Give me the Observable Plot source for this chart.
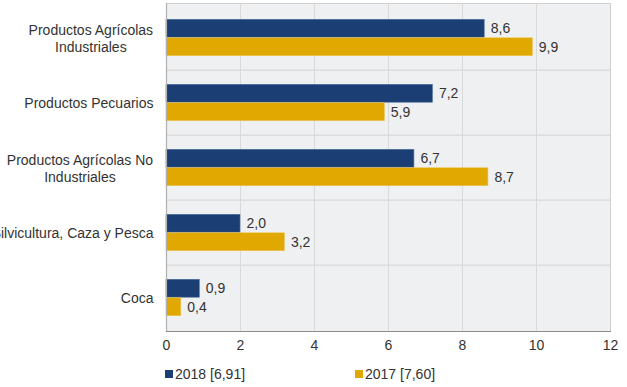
<!DOCTYPE html>
<html>
<head>
<meta charset="utf-8">
<script src="https://cdn.jsdelivr.net/npm/d3@7"></script>
<script src="https://cdn.jsdelivr.net/npm/@observablehq/plot@0.6"></script>
<style>
  body { margin: 0; background: #fff; font-family: "Liberation Sans", Arial, sans-serif; }
  #wrap { position: relative; width: 627px; height: 387px; }
  .leg { position: absolute; font-size: 14px; color: #333; display: flex; align-items: center; }
  .sw { width: 8px; height: 8px; margin-right: 2px; display: inline-block; }
</style>
</head>
<body>
<div id="wrap"></div>
<script>
const categories = [
  "Productos Agrícolas\nIndustriales",
  "Productos Pecuarios",
  "Productos Agrícolas No\nIndustriales",
  "Silvicultura, Caza y Pesca",
  "Coca"
];
const values2018 = [8.6, 7.2, 6.7, 2.0, 0.9];
const values2017 = [9.9, 5.9, 8.7, 3.2, 0.4];
const seriesNames = ["2018 [6,91]", "2017 [7,60]"];
const seriesColors = ["#1b3f74", "#e0a800"];
const xTicks = [0, 2, 4, 6, 8, 10, 12];

const data2018 = categories.map((c, i) => ({cat: c, v: values2018[i]}));
const data2017 = categories.map((c, i) => ({cat: c, v: values2017[i]}));

const W = 627, H = 359, mt = 3, mb = 28, ml = 166, mr = 17;
const step = (H - mt - mb) / categories.length;
const barH = 18.5;
const off = (step - 2 * barH) / 2;
const fmt = d => d.toFixed(1).replace(".", ",");

const ctx = document.createElement("canvas").getContext("2d");
ctx.font = "14px 'Liberation Sans'";
const labelW = c => Math.max(...c.split("\n").map(s => ctx.measureText(s).width));

const labelMarks = categories.map(c => Plot.text([c], {
  y: d => d, text: d => d, frameAnchor: "left", textAnchor: "middle",
  dx: -(13 + labelW(c) / 2), lineHeight: 1.2, fontSize: 14, fill: "#333"
}));

const chart = Plot.plot({
  width: W, height: H, marginTop: mt, marginBottom: mb, marginLeft: ml, marginRight: mr,
  style: {fontFamily: "'Liberation Sans', Arial, sans-serif", fontSize: "14px", color: "#333", background: "transparent"},
  x: {domain: [0, 12], ticks: xTicks, tickSize: 0, tickPadding: 9, tickFormat: d => String(d), label: null},
  y: {domain: categories, padding: 0, axis: null},
  marks: [
    Plot.frame({fill: "#eff0f2"}),
    Plot.ruleX(xTicks.slice(1, -1), {stroke: "#d9d9d9", strokeWidth: 1}),
    Plot.tickY(categories.slice(1), {y: d => d, dy: -step / 2, stroke: "#d9d9d9", strokeWidth: 1.2}),
    Plot.frame({stroke: "#cfcfcf"}),
    Plot.barX(data2018, {y: "cat", x: "v", fill: seriesColors[0], stroke: "#4f6f9f", strokeWidth: 0.6,
      insetTop: off, insetBottom: step - off - barH}),
    Plot.barX(data2017, {y: "cat", x: "v", fill: seriesColors[1], stroke: "#ecc44e", strokeWidth: 0.6,
      insetTop: off + barH, insetBottom: off}),
    Plot.text(data2018, {y: "cat", x: "v", text: d => fmt(d.v), textAnchor: "start", dx: 6,
      dy: -step / 2 + off + barH / 2, fontSize: 14, fill: "#333"}),
    Plot.text(data2017, {y: "cat", x: "v", text: d => fmt(d.v), textAnchor: "start", dx: 6,
      dy: -step / 2 + off + barH * 1.5, fontSize: 14, fill: "#333"}),
    Plot.ruleX([0], {stroke: "#b0b0b0", strokeWidth: 1.2}),
    Plot.frame({anchor: "bottom", stroke: "#8c8c8c", strokeWidth: 1.2}),
    ...labelMarks
  ]
});

const wrap = document.getElementById("wrap");
wrap.appendChild(chart);

const legPos = [165, 355];
seriesNames.forEach((name, i) => {
  const el = document.createElement("div");
  el.className = "leg";
  el.style.left = legPos[i] + "px";
  el.style.top = "366px";
  el.innerHTML = `<span class="sw" style="background:${seriesColors[i]}"></span><span>${name}</span>`;
  wrap.appendChild(el);
});
</script>
</body>
</html>
